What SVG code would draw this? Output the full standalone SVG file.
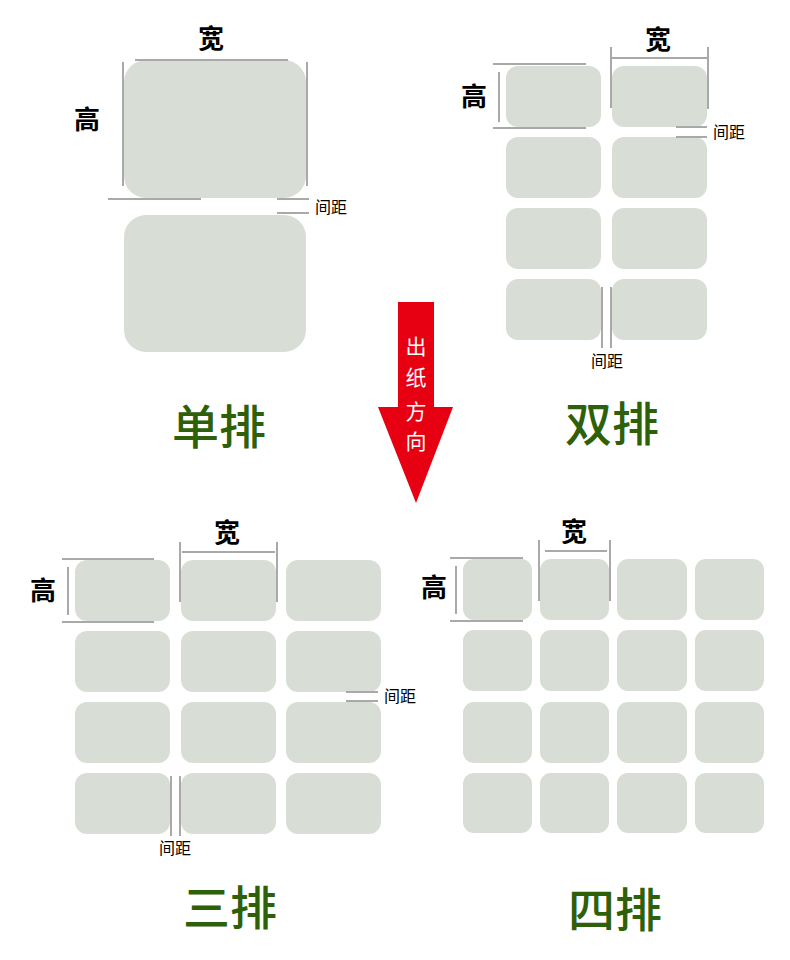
<svg xmlns="http://www.w3.org/2000/svg" width="790" height="960" viewBox="0 0 790 960">
<style>
.lbl{fill:#d8ded5}
.dim{stroke:#a9a9a9;stroke-width:2;fill:none}
.t{font-family:"Noto Sans CJK SC","Noto Sans",sans-serif;text-anchor:middle}
.big{font-size:26px;font-weight:bold;fill:#000}
.gap{font-size:16px;fill:#000}
.title{font-size:47px;font-weight:500;fill:#2e600a}
.arr{font-size:21px;fill:#fff}
</style>
<rect width="790" height="960" fill="#fff"/>
<g id="single">
<rect class="lbl" x="124" y="60" width="182" height="138" rx="22"/>
<rect class="lbl" x="124" y="215" width="182" height="137" rx="22"/>
</g>
<g id="double">
<rect class="lbl" x="506" y="66" width="95" height="61" rx="12"/>
<rect class="lbl" x="612" y="66" width="95" height="61" rx="12"/>
<rect class="lbl" x="506" y="137" width="95" height="61" rx="12"/>
<rect class="lbl" x="612" y="137" width="95" height="61" rx="12"/>
<rect class="lbl" x="506" y="208" width="95" height="61" rx="12"/>
<rect class="lbl" x="612" y="208" width="95" height="61" rx="12"/>
<rect class="lbl" x="506" y="279" width="95" height="61" rx="12"/>
<rect class="lbl" x="612" y="279" width="95" height="61" rx="12"/>
</g>
<g id="triple">
<rect class="lbl" x="75" y="560" width="95" height="61" rx="12"/>
<rect class="lbl" x="181" y="560" width="95" height="61" rx="12"/>
<rect class="lbl" x="286" y="560" width="95" height="61" rx="12"/>
<rect class="lbl" x="75" y="631" width="95" height="61" rx="12"/>
<rect class="lbl" x="181" y="631" width="95" height="61" rx="12"/>
<rect class="lbl" x="286" y="631" width="95" height="61" rx="12"/>
<rect class="lbl" x="75" y="702" width="95" height="61" rx="12"/>
<rect class="lbl" x="181" y="702" width="95" height="61" rx="12"/>
<rect class="lbl" x="286" y="702" width="95" height="61" rx="12"/>
<rect class="lbl" x="75" y="773" width="95" height="61" rx="12"/>
<rect class="lbl" x="181" y="773" width="95" height="61" rx="12"/>
<rect class="lbl" x="286" y="773" width="95" height="61" rx="12"/>
</g>
<g id="quad">
<rect class="lbl" x="463" y="559" width="69" height="61" rx="11"/>
<rect class="lbl" x="540" y="559" width="69" height="61" rx="11"/>
<rect class="lbl" x="617" y="559" width="70" height="61" rx="11"/>
<rect class="lbl" x="695" y="559" width="69" height="61" rx="11"/>
<rect class="lbl" x="463" y="630" width="69" height="61" rx="11"/>
<rect class="lbl" x="540" y="630" width="69" height="61" rx="11"/>
<rect class="lbl" x="617" y="630" width="70" height="61" rx="11"/>
<rect class="lbl" x="695" y="630" width="69" height="61" rx="11"/>
<rect class="lbl" x="463" y="702" width="69" height="61" rx="11"/>
<rect class="lbl" x="540" y="702" width="69" height="61" rx="11"/>
<rect class="lbl" x="617" y="702" width="70" height="61" rx="11"/>
<rect class="lbl" x="695" y="702" width="69" height="61" rx="11"/>
<rect class="lbl" x="463" y="773" width="69" height="60" rx="11"/>
<rect class="lbl" x="540" y="773" width="69" height="60" rx="11"/>
<rect class="lbl" x="617" y="773" width="70" height="60" rx="11"/>
<rect class="lbl" x="695" y="773" width="69" height="60" rx="11"/>
</g>
<g id="dimensions">
<path class="dim" d="M135 60H288M123 62V186M307 62V186M108 199H201M277 199H309M277 213H309"/>
<path class="dim" d="M612 58H707M611 47V108M708 47V109M493 64H586M493 128H586M499 72V122M676 127H707M676 137H707M602 287V348M611 287V348"/>
<path class="dim" d="M182 552H275M180 542V602M277 542V602M62 559H154M62 622H154M68 567V615M346 692H378M346 701H378M171 776V836M180 776V836"/>
<path class="dim" d="M545 551H607M539 540V601M610 540V601M450 558H523M450 621H523M456 566V614"/>
</g>
<g id="arrow">
<path d="M398 302H434V407H453L416 503L378 407H398Z" fill="#e60012"/>
<text class="t arr" x="416" y="354">出</text>
<text class="t arr" x="416" y="385">纸</text>
<text class="t arr" x="416" y="419">方</text>
<text class="t arr" x="416" y="449">向</text>
</g>
<g id="labels">
<text class="t big" x="211" y="48">宽</text>
<text class="t big" x="87" y="129">高</text>
<text class="t gap" x="331" y="213">间距</text>
<text class="t big" x="658" y="49">宽</text>
<text class="t big" x="474" y="106">高</text>
<text class="t gap" x="729" y="138">间距</text>
<text class="t gap" x="607" y="367">间距</text>
<text class="t big" x="227" y="542">宽</text>
<text class="t big" x="43" y="600">高</text>
<text class="t gap" x="400" y="702">间距</text>
<text class="t gap" x="175" y="854">间距</text>
<text class="t big" x="574" y="541">宽</text>
<text class="t big" x="434" y="597">高</text>
<text class="t title" x="219" y="444">单排</text>
<text class="t title" x="612" y="441">双排</text>
<text class="t title" x="230" y="925">三排</text>
<text class="t title" x="615" y="927">四排</text>
</g>
</svg>
